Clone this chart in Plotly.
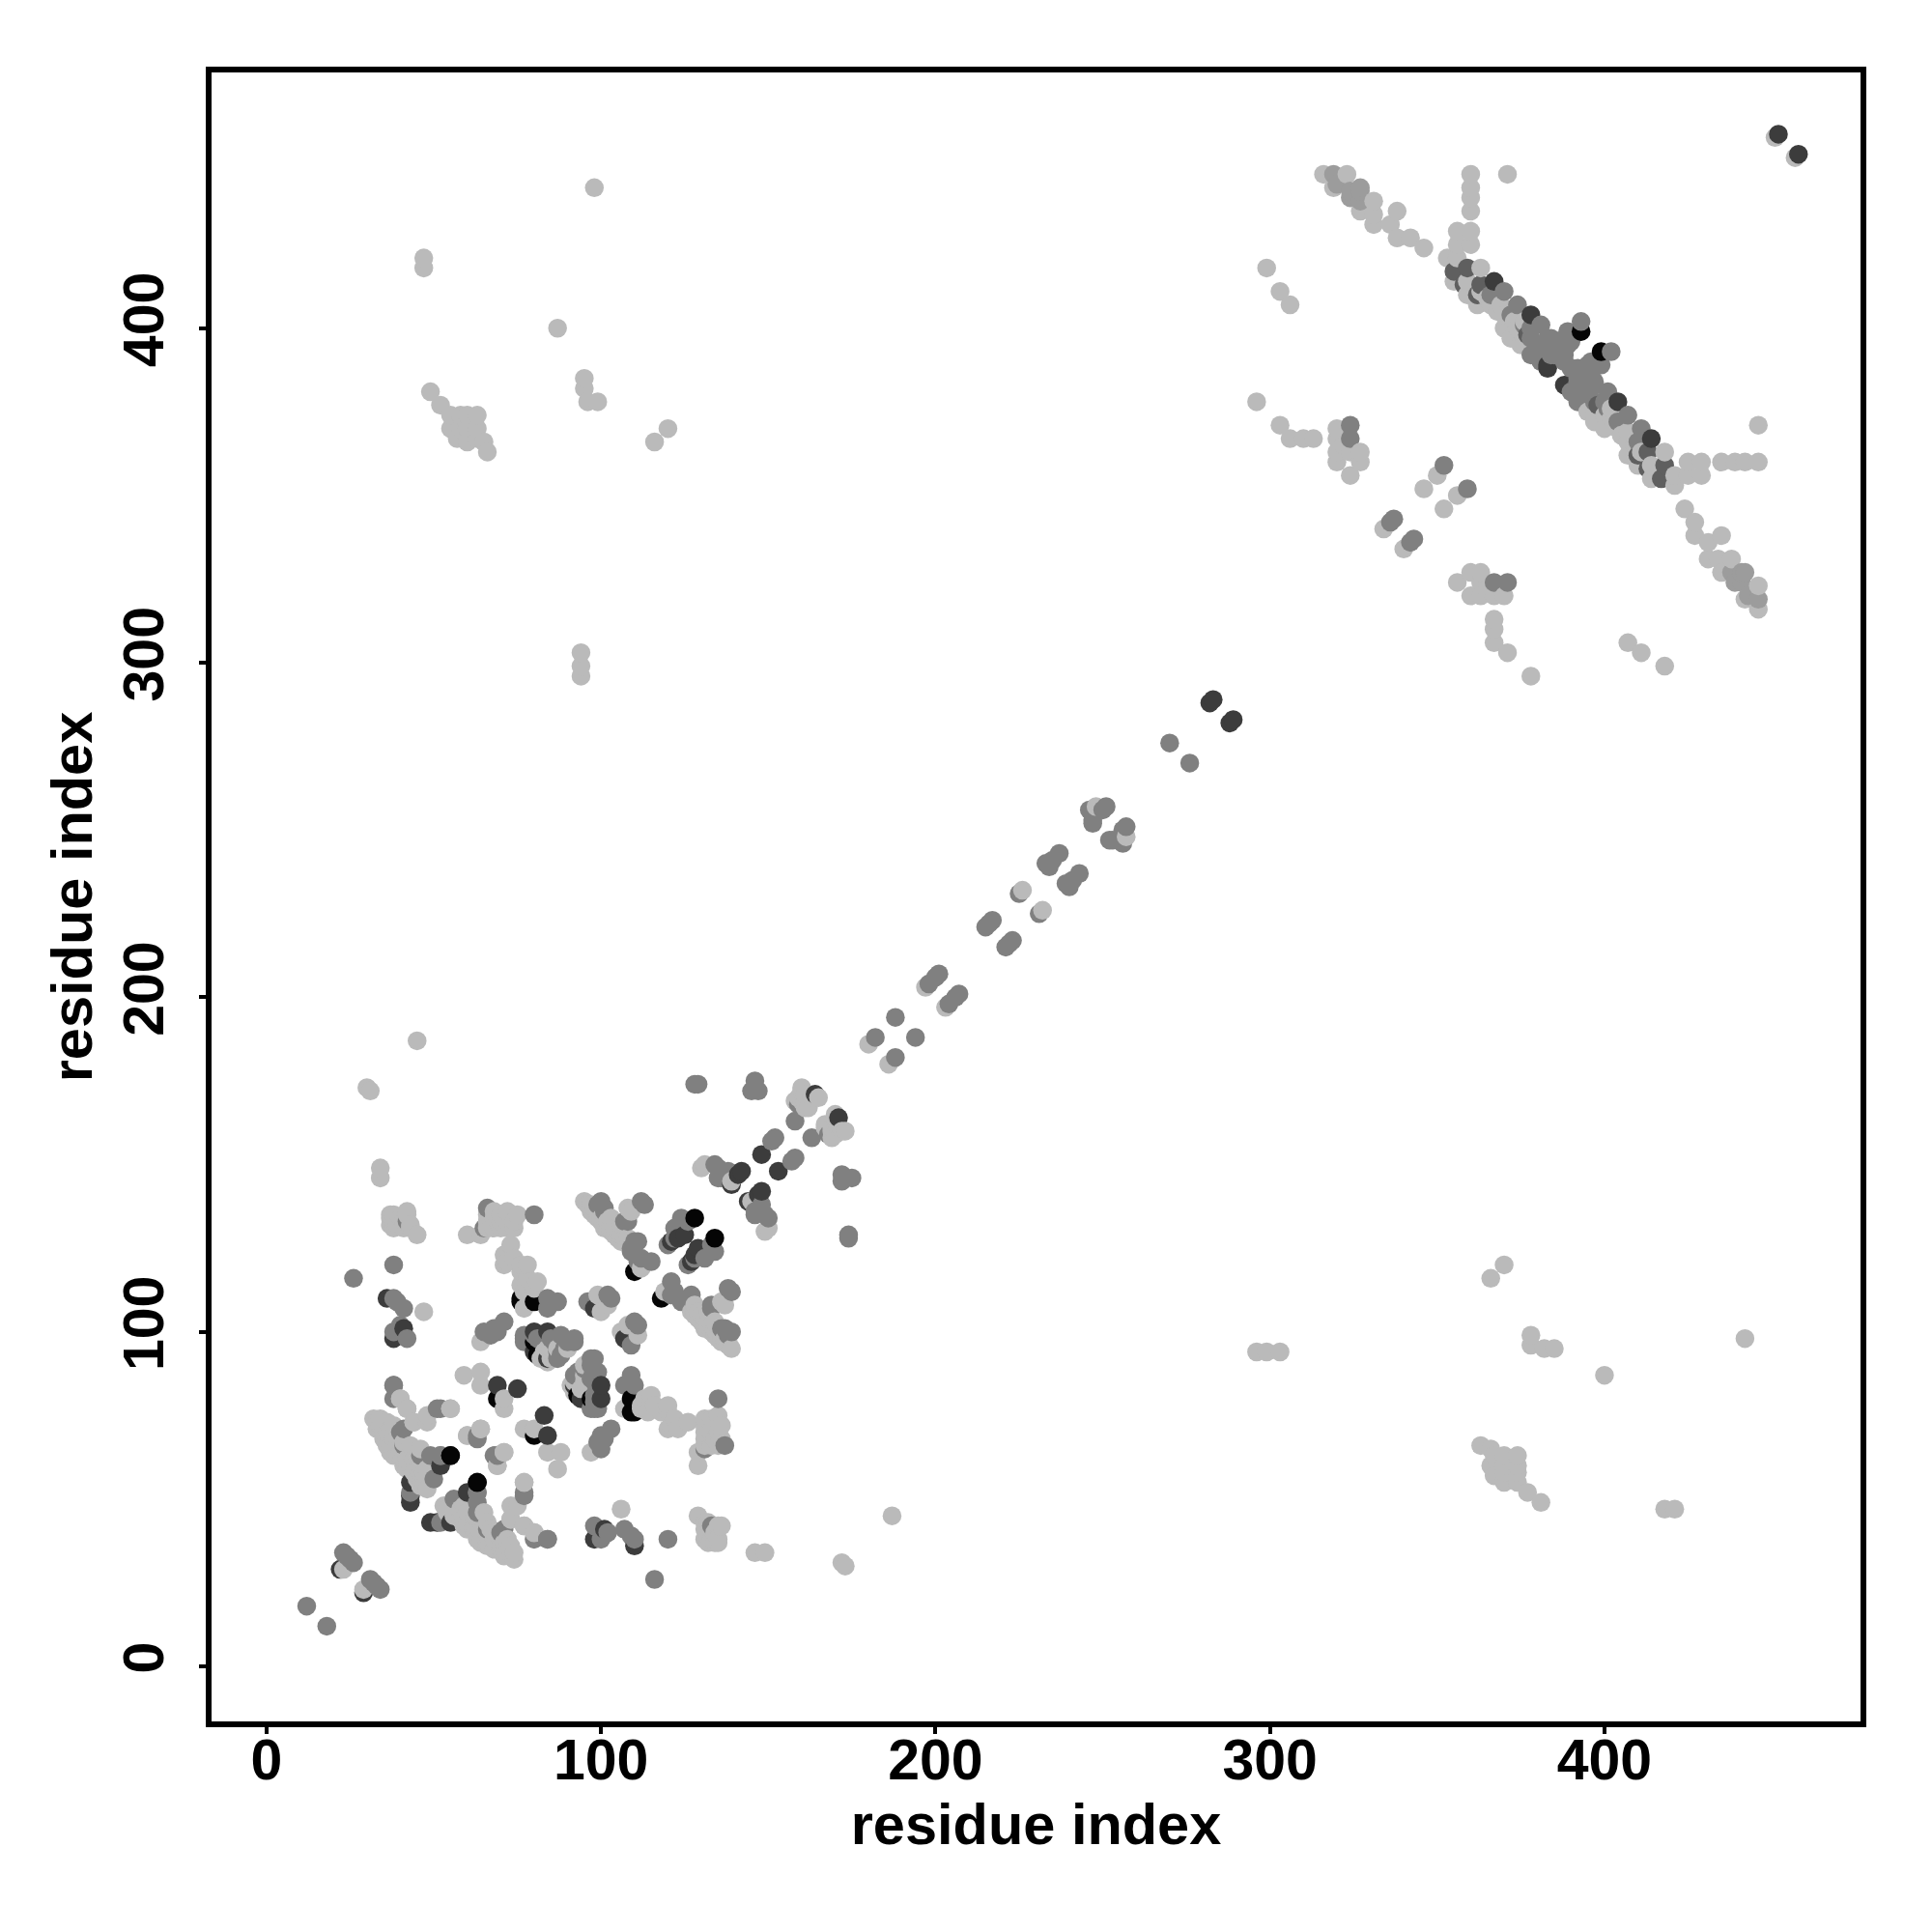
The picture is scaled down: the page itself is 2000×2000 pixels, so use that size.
import plotly.graph_objects as go

# Symmetric contact map: each contact is listed once as (i, j), i < j, by shade.
light_i = [23,37,38,38,40,42,43,37,45,47,40,42,55,48,44,33,34,35,38,43,36,37,35,41,39,41,45,46,48,48,47,40,37,42,46,
           71,71,59,64,64,60,64,69,71,77,73,73,77,80,64,84,87,86,84,90,
           77,78,73,71,71,76,81,77,60,64,66,72,75,66,72,69,70,
           97,99,102,105,109,112,108,108,103,103,104,102,100,98,96,95,100,99,102,130,139,131,160,165,158,162,160,164,160,161,
           34,34,30,31,45,
           47,47,49,52,55,55,58,60,60,63,63,58,60,63,65,66,57,87,95,95,96,99,98,116,120,94,94,94,
           316,323,319,331,327,331,338,331,336,338,342,346,360,360,360,360,356,360,356,360,353,356,363,355,359,359,363,362,366,370,374,376,371,376,368,365,373,369,
           296,299,303,303,306,306,310,313,320,320,320,324,327,320,327,324,322,350,346,334,
           180,197,226,248,451,
           32,34,35,36,37,38,39,40,41,42,43,44,44,45,46,47,46,33,36,38,
           39,41,42,37,38,41,43,
           66,68,68,70,72,74,74,70,68,
           72,74,76,78,79,80,76,78,
           98,100,101,103,104,106,107,106,105,106,103,101,99,97,97,101,102,99,
           83,82,85,85,159,161,163,161,
           370,372,375]
light_j = [29,132,135,131,134,136,132,134,129,106,80,77,77,75,73,73,74,70,63,66,73,71,71,67,64,62,62,58,53,59,54,68,66,59,65,
           80,77,87,88,84,69,71,60,64,55,48,44,42,40,97,95,95,92,91,95,
           107,120,126,123,120,120,115,112,129,129,135,136,135,131,131,133,135,
           138,135,133,130,136,119,128,137,130,134,129,131,133,135,138,139,106,111,108,149,145,150,172,170,169,167,169,170,173,169,
           146,149,173,172,187,
           421,418,381,377,374,370,370,366,374,367,374,374,370,370,366,363,367,400,385,382,378,378,442,366,370,303,299,296,
           446,446,442,438,435,434,435,431,431,427,427,424,446,442,439,435,429,429,425,425,421,421,418,414,414,410,411,407,407,404,400,397,446,402,405,409,402,407,
           378,418,371,411,367,407,367,367,370,367,363,363,363,360,360,356,365,356,352,340,
           186,203,232,257,457,
           74,72,68,66,64,68,66,64,60,62,60,58,62,56,54,58,60,71,70,72,
           132,133,135,135,133,131,131,
           133,131,136,133,133,133,131,131,134,
           121,122,118,116,115,113,114,112,
           137,134,132,132,131,129,128,132,128,127,131,134,134,137,136,131,133,136,
           94,92,92,95,170,171,170,167,
           400,397,395]

pale_i = [319,324,327,324,327,327,320]
pale_j = [446,441,441,439,438,442,443]

mid_i = [12,23,24,25,26,38,26,38,39,41,42,38,40,38,38,51,41,46,49,52,50,43,63,63,68,77,84,80,
         71,68,65,69,67,77,77,88,87,92,90,84,87,84,65,66,99,101,108,113,111,109,111,115,124,126,122,120,122,
         112,109,110,112,107,101,100,77,87,92,103,96,102,42,135,138,136,134,135,159,152,151,158,129,128,146,145,147,
         182,188,198,201,200,215,216,217,225,233,234,237,235,246,247,251,247,250,270,
         370,374,381,383,380,389,393,387,385,390,389,388,384,381,378,386,388,324,324,352,336,337,
         79,81,85,86,88,89,80,40,41,378,381,384,382,385,372,376,378,366]
mid_j = [18,34,33,32,31,120,116,110,109,107,98,100,102,84,80,77,71,63,63,63,56,52,52,69,63,52,38,135,
         103,101,100,100,99,99,97,99,94,98,97,110,109,107,131,137,138,136,133,138,127,124,121,121,134,133,128,126,131,
         122,125,127,139,133,137,139,98,92,97,110,109,111,133,149,148,146,150,146,168,158,157,163,174,174,175,172,172,
         188,194,204,207,206,221,222,223,231,240,239,243,241,256,252,257,253,256,276,
         411,407,401,397,393,399,402,393,392,396,395,392,397,392,397,396,390,371,367,359,342,343,
         98,98,98,97,93,95,99,70,66,392,390,392,394,395,404,401,400,410]

slate_i = [355,359,363,362,358,377]
slate_j = [417,418,413,410,413,398]

dark_i = [22,36,41,38,52,43,43,43,69,75,84,80,84,80,98,141,139,142,148,164,283,282,383,367,378,383,452,125,123,121]
dark_j = [29,110,101,98,60,49,51,55,84,83,100,100,92,94,107,147,144,148,153,171,289,288,389,414,404,388,458,129,128,127]

black_i = [55,63,69,76,80,80,81,110,128,393,76]
black_j = [63,55,80,109,109,97,93,118,134,399,110]

shades = [
    (light_i, light_j, "#bababa"),
    (pale_i, pale_j, "#9c9c9c"),
    (mid_i, mid_j, "#808080"),
    (slate_i, slate_j, "#5f5f5f"),
    (dark_i, dark_j, "#3c3c3c"),
    (black_i, black_j, "#050505"),
]
tick_values = [0, 100, 200, 300, 400]
tick_labels = ["0", "100", "200", "300", "400"]

points = []
for a, b, c in shades:
    for i, j in zip(a, b):
        points.append((i, j, c))
        points.append((j, i, c))
points.sort(key=lambda p: (p[0], p[1]))

fig = go.Figure(go.Scatter(
    x=[p[0] for p in points], y=[p[1] for p in points], mode="markers",
    marker=dict(size=19.5, color=[p[2] for p in points], line=dict(width=0)),
    hoverinfo="skip", showlegend=False,
))
tick_font = dict(family="Liberation Sans", size=59, color="black", weight="bold")
title_font = dict(family="Liberation Sans", size=59.5, color="black", weight="bold")
axis = dict(tickvals=tick_values, ticktext=tick_labels,
            showgrid=False, zeroline=False, showline=True, mirror=True,
            linecolor="black", linewidth=6, ticks="outside", ticklen=7, tickwidth=3.5,
            tickcolor="black", tickfont=tick_font, title=dict(text="residue index", font=title_font))
fig.update_layout(
    width=2000, height=2000, margin=dict(l=210.7, r=82.3, t=66.7, b=226, pad=0),
    plot_bgcolor="white", paper_bgcolor="white",
    xaxis=dict(axis, range=[-16.45, 476.55], ticklabelstandoff=-24),
    yaxis=dict(axis, range=[-16.45, 476.45], tickangle=-90, ticklabelstandoff=13),
)
fig.update_xaxes(title_standoff=6)
fig.update_yaxes(title_standoff=4)
fig.write_html("out.html")
